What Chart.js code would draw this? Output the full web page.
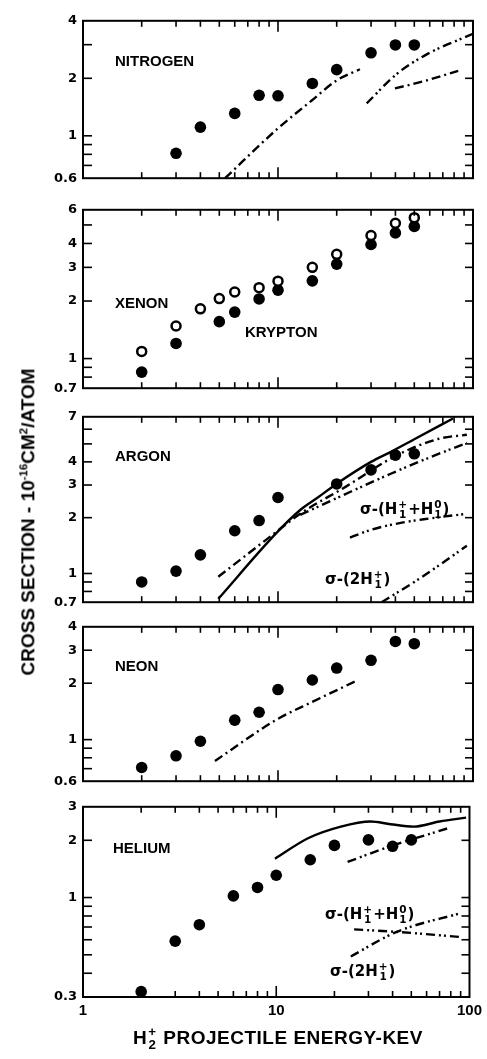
<!DOCTYPE html>
<html><head><meta charset="utf-8">
<script src="https://cdn.jsdelivr.net/npm/chart.js@4.4.0/dist/chart.umd.min.js"></script>
<style>
html,body{margin:0;padding:0;background:#fff;}
body{position:relative;width:487px;height:1059px;overflow:hidden;}
canvas{position:absolute;left:0;}
.t{position:absolute;white-space:nowrap;color:#000;line-height:1;font-weight:bold;}
.lab{font-family:"Liberation Sans",Arial,sans-serif;font-size:15px;}
.sig{font-family:"DejaVu Sans",sans-serif;font-size:15px;}
.st{display:inline-flex;flex-direction:column;vertical-align:middle;font-size:0.7em;line-height:0.95;text-align:center;margin:0 1px;}
</style></head><body>
<canvas id="c0" width="487" height="185" style="top:7px"></canvas>
<canvas id="c1" width="487" height="206" style="top:196px"></canvas>
<canvas id="c2" width="487" height="213" style="top:403px"></canvas>
<canvas id="c3" width="487" height="182" style="top:613px"></canvas>
<canvas id="c4" width="487" height="234" style="top:793px"></canvas>

<div class="t lab" style="left:115px;top:53px">NITROGEN</div>
<div class="t lab" style="left:115px;top:295px">XENON</div>
<div class="t lab" style="left:245px;top:324px">KRYPTON</div>
<div class="t lab" style="left:115px;top:448px">ARGON</div>
<div class="t lab" style="left:115px;top:658px">NEON</div>
<div class="t lab" style="left:113px;top:840px">HELIUM</div>

<div class="t sig" style="left:360px;top:500px">σ-(H<span class="st"><span>+</span><span>1</span></span>+H<span class="st"><span>0</span><span>1</span></span>)</div>
<div class="t sig" style="left:325px;top:570px">σ-(2H<span class="st"><span>+</span><span>1</span></span>)</div>
<div class="t sig" style="left:325px;top:905px">σ-(H<span class="st"><span>+</span><span>1</span></span>+H<span class="st"><span>0</span><span>1</span></span>)</div>
<div class="t sig" style="left:330px;top:962px">σ-(2H<span class="st"><span>+</span><span>1</span></span>)</div>

<div class="t" style="left:28px;top:522px;transform:translate(-50%,-50%) rotate(-90deg);font-family:'Liberation Sans',Arial,sans-serif;font-size:19px;">CROSS SECTION - 10<sup style="font-size:0.6em">-16</sup>CM<sup style="font-size:0.6em">2</sup>/ATOM</div>
<div class="t" style="left:278px;top:1039px;transform:translate(-50%,-50%);font-family:'Liberation Sans',Arial,sans-serif;font-size:19px;letter-spacing:0.5px;">H<span class="st"><span>+</span><span>2</span></span> PROJECTILE ENERGY-KEV</div>

<script>
// ---- axes ----
const xLabels = [1, 10, 100];
const xMinorTicks = [2,3,4,5,6,7,8,9,20,30,40,50,60,70,80,90];
const xMajorTicks = [10];

const nitrogenYLabels = [0.6, 1, 2, 4];
const nitrogenYTicks = [0.7, 0.8, 0.9, 1, 2, 3];
const xenonYLabels = [0.7, 1, 2, 3, 4, 6];
const xenonYTicks = [0.8, 0.9, 1, 2, 3, 4, 5];
const argonYLabels = [0.7, 1, 2, 3, 4, 7];
const argonYTicks = [0.8, 0.9, 1, 2, 3, 4, 5, 6];
const neonYLabels = [0.6, 1, 2, 3, 4];
const neonYTicks = [0.7, 0.8, 0.9, 1, 2, 3];
const heliumYLabels = [0.3, 1, 2, 3];
const heliumYTicks = [0.4, 0.5, 0.6, 0.7, 0.8, 0.9, 1, 2];

// ---- nitrogen ----
const nitrogenE = [3, 4, 6, 8, 10, 15, 20, 30, 40, 50];
const nitrogen = [0.81, 1.11, 1.31, 1.63, 1.62, 1.88, 2.22, 2.72, 2.99, 2.99];
const nitrogenCurveAE = [5.35, 9.85, 15, 20, 26.3];
const nitrogenCurveA = [0.6, 1.08, 1.54, 1.95, 2.23];
const nitrogenCurveBE = [28.5, 40.7, 57.9, 100];
const nitrogenCurveB = [1.48, 2.11, 2.67, 3.42];
const nitrogenCurveCE = [39.8, 57.9, 84];
const nitrogenCurveC = [1.77, 1.95, 2.19];

// ---- xenon / krypton ----
const xenonE = [2, 3, 4, 5, 6, 8, 10, 15, 20, 30, 40, 50];
const xenon = [1.09, 1.48, 1.82, 2.06, 2.23, 2.35, 2.54, 3.0, 3.51, 4.40, 5.10, 5.46];
const kryptonE = [2, 3, 5, 6, 8, 10, 15, 20, 30, 40, 50];
const krypton = [0.85, 1.20, 1.56, 1.75, 2.05, 2.28, 2.55, 3.12, 3.95, 4.54, 4.91];

// ---- argon ----
const argonE = [2, 3, 4, 6, 8, 10, 20, 30, 40, 50];
const argon = [0.90, 1.03, 1.26, 1.70, 1.93, 2.57, 3.04, 3.62, 4.35, 4.42];
const argonSolidE = [4.94, 9.85, 13, 16, 20, 30, 39, 50, 79];
const argonSolid = [0.73, 1.66, 2.20, 2.57, 3.05, 4.0, 4.6, 5.3, 6.85];
const argonDashDotE = [4.94, 9.4, 13, 22.4, 40, 67, 93];
const argonDashDot = [0.96, 1.62, 2.10, 2.95, 4.3, 5.33, 5.60];
const argonDashDot2E = [13, 23.4, 37.6, 59.4, 93];
const argonDashDot2 = [2.07, 2.75, 3.44, 4.21, 5.06];
const argonHpH0E = [23.4, 30, 42, 60, 93];
const argonHpH0 = [1.56, 1.72, 1.87, 1.98, 2.10];
const argon2HpE = [34, 53.3, 93];
const argon2Hp = [0.7, 0.94, 1.41];

// ---- neon ----
const neonE = [2, 3, 4, 6, 8, 10, 15, 20, 30, 40, 50];
const neon = [0.71, 0.82, 0.98, 1.27, 1.40, 1.85, 2.08, 2.41, 2.65, 3.34, 3.25];
const neonCurveE = [4.75, 9.85, 15, 25.5];
const neonCurve = [0.77, 1.28, 1.59, 2.07];

// ---- helium ----
const heliumE = [2, 3, 4, 6, 8, 10, 15, 20, 30, 40, 50];
const helium = [0.32, 0.59, 0.72, 1.02, 1.13, 1.31, 1.58, 1.88, 2.01, 1.86, 2.01];
const heliumSolidE = [9.85, 14.6, 21.6, 30.8, 39, 51.5, 70, 96];
const heliumSolid = [1.60, 2.05, 2.36, 2.51, 2.43, 2.36, 2.51, 2.63];
const heliumDashE = [23.4, 39, 79];
const heliumDash = [1.54, 1.86, 2.33];
const heliumHpH0E = [25.3, 42, 90.8];
const heliumHpH0 = [0.68, 0.66, 0.62];
const helium2HpE = [24.3, 42, 90.8];
const helium2Hp = [0.49, 0.66, 0.83];

const DASH_DOT = [9, 4, 2, 4];
const DASH_DOT2 = [9, 4, 2, 3, 2, 4];

const pts = (xs, ys) => xs.map((x, i) => ({x, y: ys[i]}));
const dots = (xs, ys, open) => ({
  data: pts(xs, ys), showLine: false,
  pointRadius: open ? 4.5 : 5.8,
  pointBackgroundColor: open ? '#fff' : '#000',
  pointBorderColor: '#000', pointBorderWidth: open ? 2.5 : 0, order: 0
});
const curve = (xs, ys, dash) => ({
  data: pts(xs, ys), showLine: true, pointRadius: 0,
  borderColor: '#000', borderWidth: 2.4, borderDash: dash || [],
  cubicInterpolationMode: 'monotone', fill: false, order: 1
});

const framePlugin = {
  id: 'frame',
  afterDraw(chart, args, opts) {
    const {ctx, chartArea: a, scales: {x, y}} = chart;
    ctx.save();
    ctx.strokeStyle = '#000';
    ctx.lineWidth = 2;
    ctx.strokeRect(a.left, a.top, a.right - a.left, a.bottom - a.top);
    ctx.lineWidth = 1.6;
    const seg = (x1, y1, x2, y2) => { ctx.beginPath(); ctx.moveTo(x1, y1); ctx.lineTo(x2, y2); ctx.stroke(); };
    xMinorTicks.concat(xMajorTicks).forEach(v => {
      const px = x.getPixelForValue(v);
      const L = xMajorTicks.includes(v) ? 11 : 6;
      seg(px, a.top, px, a.top + L);
      seg(px, a.bottom, px, a.bottom - L);
    });
    (opts.yTicks || []).forEach(v => {
      const py = y.getPixelForValue(v);
      seg(a.left, py, a.left + 9, py);
      seg(a.right, py, a.right - 8, py);
    });
    ctx.restore();
  }
};

function panel(id, yMin, yMax, yLabels, yTicks, datasets, showX) {
  new Chart(document.getElementById(id), {
    type: 'scatter',
    data: {datasets},
    plugins: [framePlugin],
    options: {
      responsive: false, animation: false, devicePixelRatio: 1,
      layout: {padding: {top: 12, bottom: showX ? 0 : 12, left: 0, right: 14}},
      plugins: {legend: {display: false}, tooltip: {enabled: false}, frame: {yTicks}},
      scales: {
        x: {
          type: 'logarithmic', min: 1, max: 100, bounds: 'data', display: showX,
          grid: {display: false, drawTicks: false}, border: {display: false},
          afterBuildTicks: s => { s.ticks = xLabels.map(v => ({value: v})); },
          afterFit: s => { s.height = showX ? 30 : 0; },
          ticks: {autoSkip: false, maxRotation: 0, padding: 5, color: '#000',
            font: {family: "'Liberation Sans', Arial, sans-serif", size: 15, weight: 'bold'},
            callback: v => String(v)}
        },
        y: {
          type: 'logarithmic', min: yMin, max: yMax, bounds: 'data',
          grid: {display: false, drawTicks: false}, border: {display: false},
          afterBuildTicks: s => { s.ticks = yLabels.map(v => ({value: v})); },
          afterFit: s => { s.width = 83; },
          ticks: {autoSkip: false, padding: 6, color: '#000',
            font: {family: "'DejaVu Sans', sans-serif", size: 13, weight: 'bold'},
            callback: v => String(v)}
        }
      }
    }
  });
}

panel('c0', 0.6, 4, nitrogenYLabels, nitrogenYTicks, [
  dots(nitrogenE, nitrogen),
  curve(nitrogenCurveAE, nitrogenCurveA, DASH_DOT),
  curve(nitrogenCurveBE, nitrogenCurveB, DASH_DOT2),
  curve(nitrogenCurveCE, nitrogenCurveC, DASH_DOT)
], false);

panel('c1', 0.7, 6, xenonYLabels, xenonYTicks, [
  dots(xenonE, xenon, true),
  dots(kryptonE, krypton)
], false);

panel('c2', 0.7, 7, argonYLabels, argonYTicks, [
  dots(argonE, argon),
  curve(argonSolidE, argonSolid),
  curve(argonDashDotE, argonDashDot, DASH_DOT),
  curve(argonDashDot2E, argonDashDot2, DASH_DOT2),
  curve(argonHpH0E, argonHpH0, DASH_DOT2),
  curve(argon2HpE, argon2Hp, DASH_DOT2)
], false);

panel('c3', 0.6, 4, neonYLabels, neonYTicks, [
  dots(neonE, neon),
  curve(neonCurveE, neonCurve, DASH_DOT)
], false);

panel('c4', 0.3, 3, heliumYLabels, heliumYTicks, [
  dots(heliumE, helium),
  curve(heliumSolidE, heliumSolid),
  curve(heliumDashE, heliumDash, DASH_DOT2),
  curve(heliumHpH0E, heliumHpH0, DASH_DOT2),
  curve(helium2HpE, helium2Hp, DASH_DOT2)
], true);
</script>
</body></html>
